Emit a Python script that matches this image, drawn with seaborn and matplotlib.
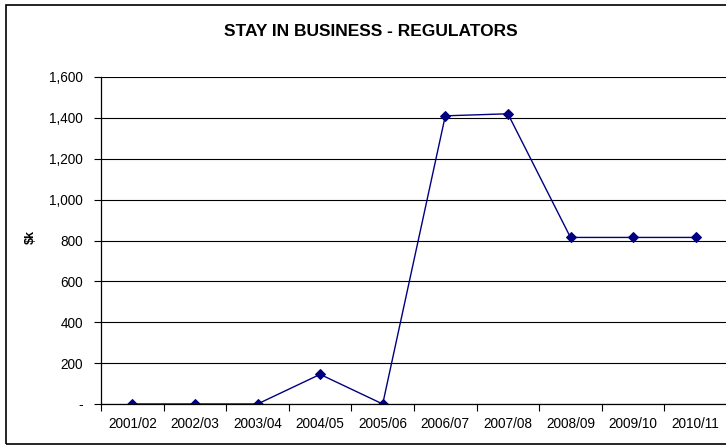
import matplotlib
matplotlib.use("Agg")
import matplotlib.pyplot as plt
from matplotlib.patches import Rectangle
from matplotlib.ticker import FixedLocator, FuncFormatter
from matplotlib.transforms import blended_transform_factory
import seaborn as sns
import pandas as pd
import numpy as np

years = ["2001/02", "2002/03", "2003/04", "2004/05", "2005/06",
         "2006/07", "2007/08", "2008/09", "2009/10", "2010/11"]
spend_k = [0, 0, 0, 145, 0, 1410, 1420, 815, 815, 815]
y_ticks = [0, 200, 400, 600, 800, 1000, 1200, 1400, 1600]

sns.set_theme(style="white")
plt.rcParams["font.family"] = ["Liberation Sans", "DejaVu Sans"]

df = pd.DataFrame({"year": years, "spend": spend_k})

fig = plt.figure(figsize=(7.26, 4.46), dpi=100)
ax = fig.add_axes([101 / 726, 1 - 404 / 446, 626 / 726, 327 / 446])

navy = "#000080"
sns.pointplot(data=df, x="year", y="spend", color=navy, markers="D",
              markersize=5, linewidth=1.0, ax=ax)

ax.set_xlim(-0.5, len(years) - 0.5)
ax.set_ylim(0, 1600)

# horizontal gridlines
ax.yaxis.set_major_locator(FixedLocator(y_ticks))
ax.yaxis.set_major_formatter(FuncFormatter(lambda v, p: "-" if v == 0 else f"{v:,.0f}"))
ax.grid(axis="y", color="#000000", linewidth=0.8)
ax.grid(axis="x", visible=False)
ax.set_axisbelow(True)

# category labels centred, tick marks on boundaries
ax.set_xticks(range(len(years)))
ax.set_xticklabels(years)
ax.set_xticks(np.arange(-0.5, len(years), 1.0), minor=True)
ax.tick_params(axis="x", which="major", length=0, pad=9, labelsize=9.8, colors="#000000")
ax.tick_params(axis="x", which="minor", length=5, width=0.8, color="#000000", direction="out", bottom=True)
ax.tick_params(axis="y", which="major", length=5, width=0.8, color="#000000", direction="out",
               left=True, pad=8, labelsize=9.8, labelcolor="#000000")

for side in ["top", "right"]:
    ax.spines[side].set_visible(False)
for side in ["left", "bottom"]:
    ax.spines[side].set_color("#000000")
    ax.spines[side].set_linewidth(0.9)

ax.set_xlabel("")
ax.set_ylabel(r"\$k", fontsize=9, fontweight="bold", color="#000000")
ax.yaxis.set_label_coords(31 / 726, 0.51,
                          transform=blended_transform_factory(fig.transFigure, ax.transAxes))
ax.yaxis.label.set_verticalalignment("center")

fig.text(371 / 726, 1 - 31 / 446, "STAY IN BUSINESS - REGULATORS",
         ha="center", va="center", fontsize=12.5, fontweight="bold", color="#000000")

# chart border
fig.patches.append(Rectangle((6 / 726, 1 - 444 / 446), 1.2, 439 / 446,
                             transform=fig.transFigure, fill=False,
                             edgecolor="#000000", linewidth=1.2, clip_on=False))

fig.savefig("out.png", dpi=100)
